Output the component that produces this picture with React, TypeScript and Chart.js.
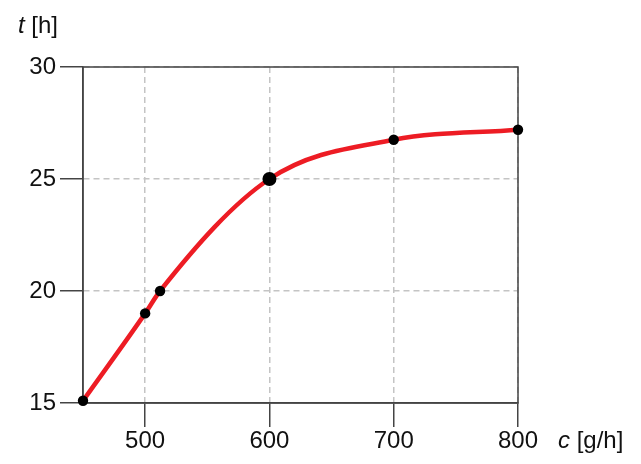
import React, { useEffect, useRef } from "react";
import { Chart, registerables } from "chart.js";

Chart.register(...registerables);

const cValues = [450, 500, 512, 600, 700, 800];
const tValues = [15.1, 19.0, 20.0, 25.0, 26.75, 27.2];
const xTicks = [500, 600, 700, 800];
const yTicks = [15, 20, 25, 30];
const xTitle = "c";
const xUnit = " [g/h]";
const yTitle = "t";
const yUnit = " [h]";

const FONT = "'Liberation Sans', Arial, sans-serif";
const DARK = "#444444";
const GRID = "#c4c4c4";
const FS = 24;

export default function App() {
  const ref = useRef<HTMLCanvasElement | null>(null);

  useEffect(() => {
    document.body.style.margin = "0";
    const canvas = ref.current;
    if (!canvas) return;

    const frame = {
      id: "frame",
      beforeDatasetsDraw(chart: any) {
        const { ctx, chartArea: a } = chart;
        ctx.save();
        ctx.strokeStyle = DARK;
        ctx.lineWidth = 1.5;
        ctx.setLineDash([]);
        ctx.strokeRect(a.left, a.top, a.right - a.left, a.bottom - a.top);
        ctx.restore();
      },
      afterDraw(chart: any) {
        const { ctx } = chart;
        ctx.save();
        ctx.fillStyle = "#111";
        ctx.textBaseline = "alphabetic";
        ctx.textAlign = "left";
        // y title
        ctx.font = `italic ${FS}px ${FONT}`;
        ctx.fillText(yTitle, 18, 33);
        let w = ctx.measureText(yTitle).width;
        ctx.font = `${FS}px ${FONT}`;
        ctx.fillText(yUnit, 18 + w, 33);
        // x title
        ctx.font = `italic ${FS}px ${FONT}`;
        ctx.fillText(xTitle, 558, 448);
        w = ctx.measureText(xTitle).width;
        ctx.font = `${FS}px ${FONT}`;
        ctx.fillText(xUnit, 558 + w, 448);
        ctx.restore();
      },
    };

    const chart = new Chart(canvas, {
      type: "line",
      data: {
        datasets: [
          {
            data: cValues.map((c, i) => ({ x: c, y: tValues[i] })),
            borderColor: "rgb(237,28,36)",
            borderWidth: 4.5,
            cubicInterpolationMode: "monotone",
            pointBackgroundColor: "#000",
            pointBorderColor: "#000",
            pointBorderWidth: 0,
            pointRadius: (ctx: any) => (ctx.dataIndex === 3 ? 7 : 5.2),
            clip: false as any,
          },
        ],
      },
      options: {
        responsive: false,
        animation: false,
        events: [],
        layout: { padding: { top: 67, right: 123, left: 0, bottom: 0 } },
        plugins: { legend: { display: false }, tooltip: { enabled: false } },
        scales: {
          x: {
            type: "linear",
            min: 450,
            max: 800,
            afterBuildTicks: (s: any) => {
              s.ticks = xTicks.map((v) => ({ value: v }));
            },
            afterFit: (s: any) => {
              s.height = 61;
            },
            grid: {
              color: GRID,
              lineWidth: 1.5,
              tickColor: DARK,
              tickWidth: 1.5,
              tickLength: 24,
              tickBorderDash: [],
            },
            border: { display: true, color: DARK, width: 1.5, dash: [6, 4] },
            ticks: {
              color: "#111",
              font: { family: FONT, size: FS },
              padding: 0,
              maxRotation: 0,
            },
          },
          y: {
            type: "linear",
            min: 15,
            max: 30,
            afterBuildTicks: (s: any) => {
              s.ticks = yTicks.map((v) => ({ value: v }));
            },
            afterFit: (s: any) => {
              s.width = 83;
            },
            grid: {
              color: GRID,
              lineWidth: 1.5,
              tickColor: DARK,
              tickWidth: 1.5,
              tickLength: 23,
              tickBorderDash: [],
            },
            border: { display: true, color: DARK, width: 1.5, dash: [6, 4] },
            ticks: {
              color: "#111",
              font: { family: FONT, size: FS },
              padding: 4,
            },
          },
        },
      } as any,
      plugins: [frame],
    });

    return () => chart.destroy();
  }, []);

  return (
    <div style={{ position: "relative", width: 641, height: 464 }}>
      <canvas ref={ref} width={641} height={464} style={{ display: "block" }} />
    </div>
  );
}
